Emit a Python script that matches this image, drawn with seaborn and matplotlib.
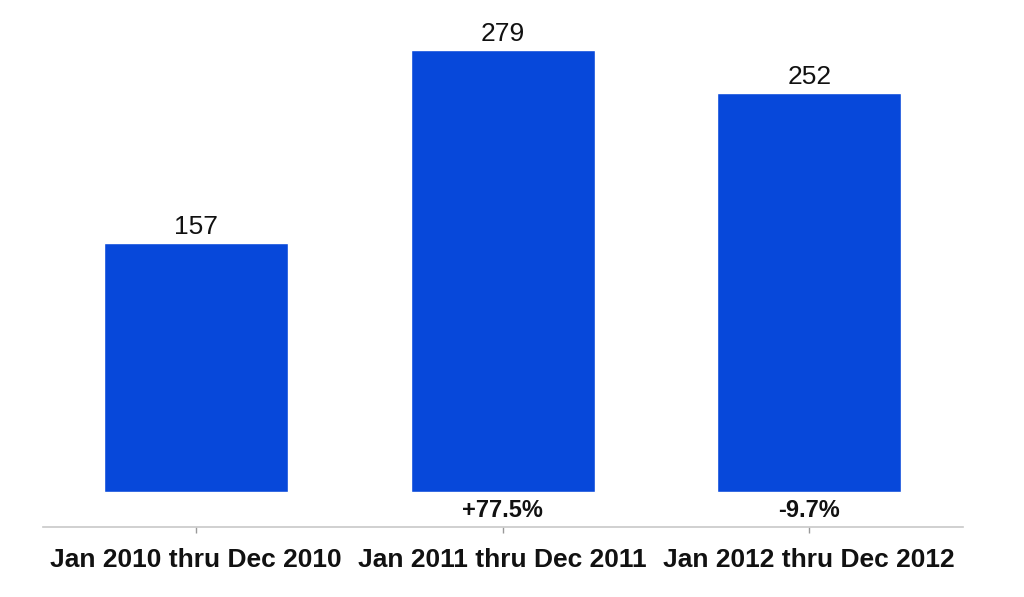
import pandas as pd
import seaborn as sns
import matplotlib.pyplot as plt

periods = ["Jan 2010 thru Dec 2010", "Jan 2011 thru Dec 2011", "Jan 2012 thru Dec 2012"]
counts = [157, 279, 252]
changes = ["", "+77.5%", "-9.7%"]

df = pd.DataFrame({"period": periods, "count": counts})

sns.set_style("white")
plt.rcParams['font.family'] = ['Liberation Sans', 'DejaVu Sans']

fig = plt.figure(figsize=(10.24, 5.97), dpi=100)
ax = fig.add_axes([0.042, 0.1173, 0.898, 0.8827])

sns.barplot(x="period", y="count", data=df, color="#0748DA", saturation=1,
            width=0.6, ax=ax)

# value labels on top
for i, v in enumerate(counts):
    ax.annotate(str(v), (i, v), xytext=(0, 3), textcoords="offset points",
                ha="center", va="bottom", fontsize=19, color="#111111")

# change labels below bars
for i, c in enumerate(changes):
    if c:
        ax.text(i, -11.5, c, ha="center", va="center", fontsize=17,
                fontweight="bold", color="#111111")

ax.set_xlim(-0.5, 2.5)
ax.set_ylim(-22.1, 310.6)
ax.set_xlabel("")
ax.set_ylabel("")
ax.set_yticks([])
sns.despine(ax=ax, left=True)
ax.spines["bottom"].set_color("#c8c8c8")
ax.spines["bottom"].set_linewidth(1.2)
ax.tick_params(axis="x", bottom=True, length=4, color="#999999", width=1,
               labelsize=19, pad=11)
for lbl in ax.get_xticklabels():
    lbl.set_fontweight("bold")
    lbl.set_color("#111111")

fig.savefig("out.png", dpi=100)
